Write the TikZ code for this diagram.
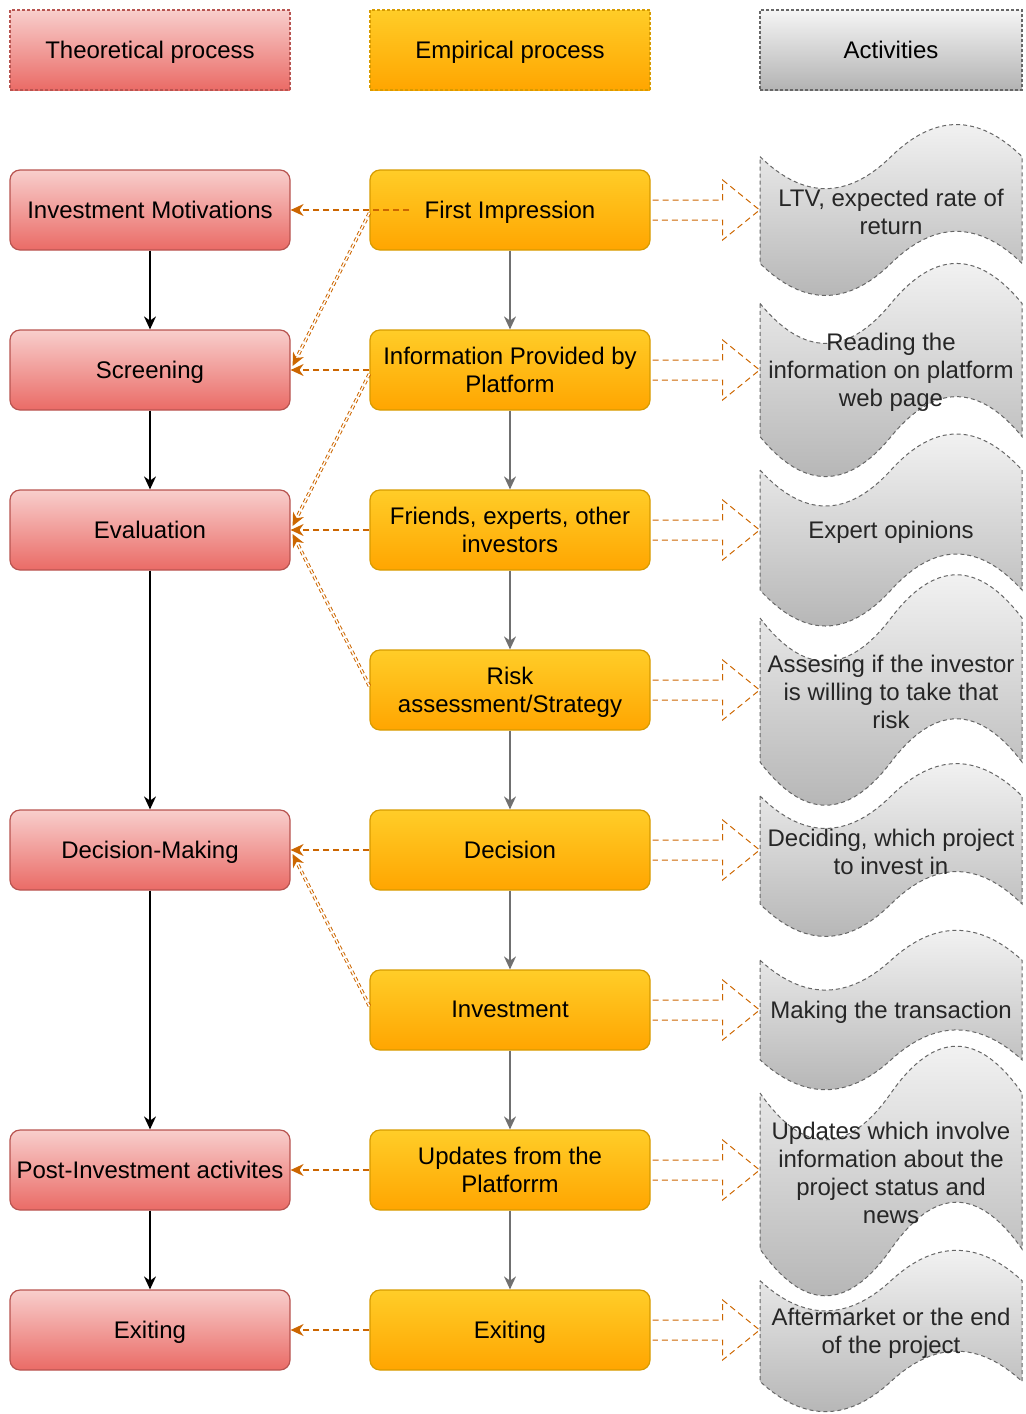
\documentclass[tikz,border=0pt]{standalone}
\usepackage{fontspec}
\setmainfont{Liberation Sans}
\usetikzlibrary{arrows.meta,calc}
\definecolor{redtop}{HTML}{F8CECC}
\definecolor{redbot}{HTML}{EA6B66}
\definecolor{redborder}{HTML}{B85450}
\definecolor{ortop}{HTML}{FFCD28}
\definecolor{orbot}{HTML}{FFA500}
\definecolor{orborder}{HTML}{D79B00}
\definecolor{grtop}{HTML}{F5F5F5}
\definecolor{grbot}{HTML}{B3B3B3}
\definecolor{grborder}{HTML}{666666}
\definecolor{arrorange}{HTML}{CC6600}
\definecolor{midarrow}{HTML}{707070}
\newcommand{\mytape}[4]{%
  \pgfmathsetmacro\tpy{#2-#3/2}%
  \pgfmathsetmacro\tpb{#2+#3/2}%
  \pgfmathsetmacro\tpdy{0.4*#3}%
  \path[tapestyle] (760,\tpy+\tpdy/2)
    .. controls (803.67,\tpy+1.1*\tpdy) and (847.33,\tpy+1.1*\tpdy) .. (891,\tpy+\tpdy/2)
    .. controls (934.67,\tpy-0.1*\tpdy) and (978.33,\tpy-0.1*\tpdy) .. (1022,\tpy+\tpdy/2)
    -- (1022,\tpb-\tpdy/2)
    .. controls (978.33,\tpb-1.1*\tpdy) and (934.67,\tpb-1.1*\tpdy) .. (891,\tpb-\tpdy/2)
    .. controls (847.33,\tpb+0.1*\tpdy) and (803.67,\tpb+0.1*\tpdy) .. (760,\tpb-\tpdy/2)
    -- cycle;
  \node[tapetext] (#1) at (891,#2+2) {#4};
}
\begin{document}
\begin{tikzpicture}[x=0.5pt,y=-0.5pt,
  font=\fontsize{12}{14}\selectfont,
  basebox/.style={minimum width=140pt, minimum height=40pt, align=center, inner sep=2pt, line width=0.6pt, text depth=0.5pt},
  redbox/.style={basebox, rounded corners=5pt, draw=redborder, top color=redtop, bottom color=redbot},
  orbox/.style={basebox, rounded corners=5pt, draw=orborder, top color=ortop, bottom color=orbot},
  redhead/.style={basebox, draw=redborder, top color=redtop, bottom color=redbot, dash pattern=on 1.5pt off 1pt},
  orhead/.style={basebox, draw=orborder, top color=ortop, bottom color=orbot, dash pattern=on 1.5pt off 1pt},
  grhead/.style={basebox, minimum width=131pt, draw=grborder, top color=grtop, bottom color=grbot, dash pattern=on 1.5pt off 1pt},
  tapestyle/.style={draw=grborder, top color=grtop, bottom color=grbot, line width=0.5pt, dash pattern=on 2pt off 1.5pt},
  tapetext/.style={align=center, inner sep=0pt, text=black!85},
  blackarr/.style={draw=black, line width=0.7pt, -{Stealth[length=6.5pt,width=6pt]}},
  grayarr/.style={draw=midarrow, line width=0.7pt, -{Stealth[length=6.5pt,width=6pt]}},
  dasharr/.style={draw=arrorange, line width=0.7pt, dash pattern=on 3pt off 2pt, -{Stealth[length=6.5pt,width=6pt]}},
  diagarr/.style={draw=arrorange, line width=0.5pt, double=white, double distance=0.7pt, dash pattern=on 2pt off 1.5pt, -{Stealth[length=6.5pt,width=6pt]}},
  flexarr/.style={draw=arrorange, line width=0.5pt, dash pattern=on 3pt off 2pt}
]
\useasboundingbox (0,0) rectangle (1025,1414);

% headers
\node[redhead] (h1) at (150,50) {Theoretical process};
\node[orhead] (h2) at (510,50) {Empirical process};
\node[grhead] (h3) at (891,50) {Activities};

% tapes
\mytape{t1}{210}{178}{LTV, expected rate of\\return}
\mytape{t2}{370}{222}{Reading the\\information on platform\\web page}
\mytape{t3}{530}{200}{Expert opinions}
\mytape{t4}{690}{240}{Assesing if the investor\\is willing to take that\\risk}
\mytape{t5}{850}{180}{Deciding, which project\\to invest in}
\mytape{t6}{1010}{166}{Making the transaction}
\mytape{t7}{1171}{260}{Updates which involve\\information about the\\project status and\\news}
\mytape{t8}{1331}{168}{Aftermarket or the end\\of the project}

% left column
\node[redbox] (l1) at (150,210) {Investment Motivations};
\node[redbox] (l2) at (150,370) {Screening};
\node[redbox] (l3) at (150,530) {Evaluation};
\node[redbox] (l5) at (150,850) {Decision-Making};
\node[redbox] (l7) at (150,1170) {Post-Investment activites};
\node[redbox] (l8) at (150,1330) {Exiting};

% middle column
\node[orbox] (m1) at (510,210) {First Impression};
\node[orbox] (m2) at (510,370) {Information Provided by\\Platform};
\node[orbox] (m3) at (510,530) {Friends, experts, other\\investors};
\node[orbox] (m4) at (510,690) {Risk\\assessment/Strategy};
\node[orbox] (m5) at (510,850) {Decision};
\node[orbox] (m6) at (510,1010) {Investment};
\node[orbox] (m7) at (510,1170) {Updates from the\\Platforrm};
\node[orbox] (m8) at (510,1330) {Exiting};

% left arrows
\draw[blackarr] (l1) -- (l2);
\draw[blackarr] (l2) -- (l3);
\draw[blackarr] (l3) -- (l5);
\draw[blackarr] (l5) -- (l7);
\draw[blackarr] (l7) -- (l8);

% middle arrows
\draw[grayarr] (m1) -- (m2);
\draw[grayarr] (m2) -- (m3);
\draw[grayarr] (m3) -- (m4);
\draw[grayarr] (m4) -- (m5);
\draw[grayarr] (m5) -- (m6);
\draw[grayarr] (m6) -- (m7);
\draw[grayarr] (m7) -- (m8);

% dashed arrows middle -> left
\draw[dasharr] ($(m1.west)+(40,0)$) -- (l1.east);
\draw[dasharr] (m2.west) -- (l2.east);
\draw[dasharr] (m3.west) -- (l3.east);
\draw[dasharr] (m5.west) -- (l5.east);
\draw[dasharr] (m7.west) -- (l7.east);
\draw[dasharr] (m8.west) -- (l8.east);

% diagonal arrows
\draw[diagarr] ($(m1.west)+(0,3)$) -- ($(l2.east)+(2,-4)$);
\draw[diagarr] ($(m2.west)+(0,4)$) -- ($(l3.east)+(2,-4)$);
\draw[diagarr] ($(m4.west)+(0,-4)$) -- ($(l3.east)+(2,4)$);
\draw[diagarr] ($(m6.west)+(0,-4)$) -- ($(l5.east)+(2,4)$);

% flex arrows middle -> tapes
\foreach \i in {1,...,8}{
  \draw[flexarr] ($(m\i.east)+(2,-10)$) -- ++(70,0) -- ++(0,-20) -- ++(37,30) -- ++(-37,30) -- ++(0,-20) -- ++(-70,0);
}
\end{tikzpicture}
\end{document}
